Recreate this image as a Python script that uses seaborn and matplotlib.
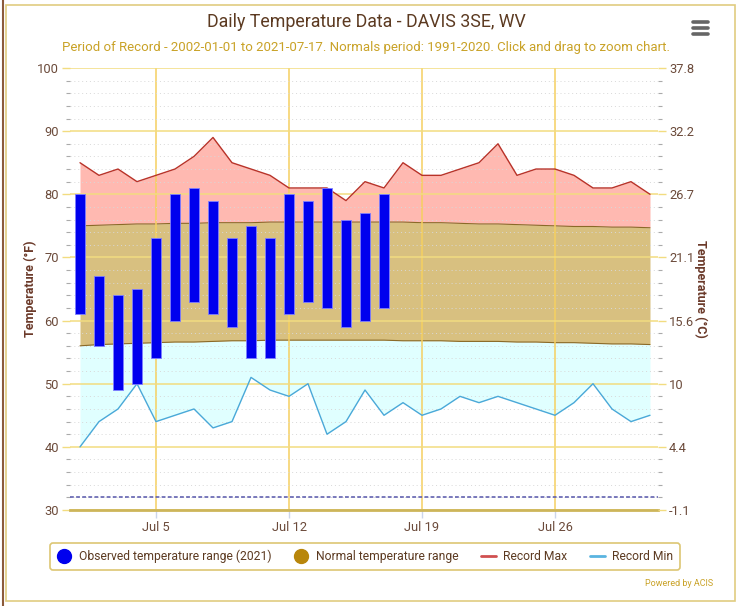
import matplotlib
matplotlib.use("Agg")
import matplotlib.pyplot as plt
import seaborn as sns
import numpy as np
import pandas as pd
from matplotlib.lines import Line2D
from matplotlib.patches import Rectangle

# ---------------- data ----------------
days = list(range(1, 32))                      # July 1..31
obs_days = list(range(1, 18))                  # July 1..17 (2021)
obs_high = [80, 67, 64, 65, 73, 80, 81, 79, 73, 75, 73, 80, 79, 81, 76, 77, 80]
obs_low = [61, 56, 49, 50, 54, 60, 63, 61, 59, 54, 54, 61, 63, 62, 59, 60, 62]
rec_max = [85, 83, 84, 82, 83, 84, 86, 89, 85, 84, 83, 81, 81, 81, 79, 82, 81, 85, 83, 83,
           84, 85, 88, 83, 84, 84, 83, 81, 81, 82, 80]
rec_min = [40, 44, 46, 50, 44, 45, 46, 43, 44, 51, 49, 48, 50, 42, 44, 49, 45, 47, 45, 46,
           48, 47, 48, 47, 46, 45, 47, 50, 46, 44, 45]
norm_high = [75.0, 75.1, 75.2, 75.3, 75.3, 75.4, 75.4, 75.5, 75.5, 75.5, 75.6, 75.6, 75.6,
             75.6, 75.6, 75.6, 75.6, 75.6, 75.5, 75.5, 75.4, 75.3, 75.3, 75.2, 75.1, 75.0,
             74.9, 74.9, 74.8, 74.8, 74.7]
norm_low = [56.0, 56.2, 56.3, 56.4, 56.5, 56.6, 56.6, 56.7, 56.8, 56.8, 56.9, 56.9, 56.9,
            56.9, 56.9, 56.9, 56.9, 56.8, 56.8, 56.8, 56.7, 56.7, 56.7, 56.6, 56.6, 56.5,
            56.5, 56.4, 56.3, 56.3, 56.2]
freezing = 32
x_ticks = [5, 12, 19, 26]
x_tick_labels = ["Jul 5", "Jul 12", "Jul 19", "Jul 26"]
yf_ticks = [30, 40, 50, 60, 70, 80, 90, 100]
yc_labels = ["-1.1", "4.4", "10", "15.6", "21.1", "26.7", "32.2", "37.8"]

df = pd.DataFrame({"day": days, "rec_max": rec_max, "rec_min": rec_min,
                   "norm_high": norm_high, "norm_low": norm_low})

# ---------------- style ----------------
sns.set_theme(style="white")
plt.rcParams["font.family"] = ["Roboto", "DejaVu Sans"]

BROWN = "#5c3a21"
TICKC = "#6b4a3a"
GOLD = "#c9a227"
GRID = "#f2dc80"

fig = plt.figure(figsize=(7.38, 6.06), dpi=100)
ax = fig.add_axes([70 / 738, 1 - 510 / 606, 588 / 738, 442 / 606])

# fills
ax.fill_between(df["day"], df["norm_high"], df["rec_max"], color="#ffb9b1", lw=0, zorder=1)
ax.fill_between(df["day"], df["norm_low"], df["norm_high"], color="#d8c080", lw=0, zorder=1)
ax.fill_between(df["day"], df["rec_min"], df["norm_low"], color="#e0ffff", lw=0, zorder=1)
sns.lineplot(data=df, x="day", y="norm_high", ax=ax, color="#8a6a28", lw=0.8, zorder=2)
sns.lineplot(data=df, x="day", y="norm_low", ax=ax, color="#8a6a28", lw=0.8, zorder=2)

# record lines
sns.lineplot(data=df, x="day", y="rec_max", ax=ax, color="#b83228", lw=1.0, zorder=2.6)
sns.lineplot(data=df, x="day", y="rec_min", ax=ax, color="#4aa8d8", lw=1.0, zorder=2.6)

# freezing line
ax.axhline(freezing, color="#5555aa", lw=1.1, ls=(0, (2.5, 1.5)), zorder=2.6)

# observed bars
ax.bar(obs_days, np.array(obs_high) - np.array(obs_low), bottom=obs_low, width=0.5,
       color="#0000ee", edgecolor="#7f7fff", linewidth=0.6, zorder=3)

# axes
ax.set_xlim(1 - 10 / 19, 1 + 578 / 19)
ax.set_ylim(30, 100)
ax.set_xlabel("")
ax.set_ylabel("")
ax.set_xticks(x_ticks)
ax.set_xticklabels(x_tick_labels)
ax.set_yticks(yf_ticks)
ax.set_yticks(np.arange(30, 101, 2), minor=True)
ax.set_axisbelow(False)
ax.grid(True, axis="y", which="major", color=GRID, lw=1.1, zorder=2.5)
ax.grid(True, axis="y", which="minor", color="#d8d8d8", lw=0.7, ls=(0, (1, 3)), zorder=2.5)
ax.grid(True, axis="x", which="major", color="#f5d060", lw=1.1, zorder=2.5)
for s in ["top", "left", "right"]:
    ax.spines[s].set_visible(False)
ax.spines["bottom"].set_color("#cdb55a")
ax.spines["bottom"].set_linewidth(2.0)
ax.spines["bottom"].set_zorder(4)
ax.tick_params(axis="y", which="major", left=True, length=6, width=1, color=GRID,
               labelsize=9.3, labelcolor=TICKC, pad=2)
ax.tick_params(axis="y", which="minor", left=True, length=3, width=0.8, color="#aaaaaa")
ax.tick_params(axis="x", which="major", bottom=True, length=6, width=1, color="#ccd6eb",
               labelsize=9.3, labelcolor=TICKC, pad=2)

ax2 = ax.twinx()
ax2.set_ylim(30, 100)
ax2.set_yticks(yf_ticks)
ax2.set_yticklabels(yc_labels)
ax2.set_yticks(np.arange(30, 101, 2), minor=True)
for s in ["top", "left", "right", "bottom"]:
    ax2.spines[s].set_visible(False)
ax2.tick_params(axis="y", which="major", right=True, length=6, width=1, color=GRID,
                labelsize=9.3, labelcolor=TICKC, pad=2)
ax2.tick_params(axis="y", which="minor", right=True, length=3, width=0.8, color="#aaaaaa")
ax2.grid(False)

# axis titles
fig.text(30 / 738, 1 - 289 / 606, "Temperature (°F)", rotation=90, ha="center", va="center",
         fontsize=9, fontweight="bold", color="#6b3a2a")
fig.text(701 / 738, 1 - 289 / 606, "Temperature (°C)", rotation=270, ha="center", va="center",
         fontsize=9, fontweight="bold", color="#6b3a2a")

# titles
fig.text(366 / 738, 1 - 22 / 606, "Daily Temperature Data - DAVIS 3SE, WV", ha="center",
         va="center", fontsize=12.8, color=BROWN)
fig.text(366 / 738, 1 - 47 / 606,
         "Period of Record - 2002-01-01 to 2021-07-17. Normals period: 1991-2020. Click and drag to zoom chart.",
         ha="center", va="center", fontsize=9.5, color=GOLD)

# legend
handles = [
    Line2D([], [], ls="none", marker="o", markersize=10, color="#0000ee"),
    Line2D([], [], ls="none", marker="o", markersize=10, color="#b8860b"),
    Line2D([], [], color="#d05050", lw=2),
    Line2D([], [], color="#5ab4e0", lw=2),
]
labels = ["Observed temperature range (2021)", "Normal temperature range", "Record Max", "Record Min"]
leg = fig.legend(handles, labels, loc="center", bbox_to_anchor=(365 / 738, 1 - 556.5 / 606),
                 ncol=4, frameon=True, fancybox=True, fontsize=8.7, handlelength=1.2,
                 handletextpad=0.6, columnspacing=1.9, borderpad=0.55, labelcolor=BROWN)
leg.get_frame().set_edgecolor("#d4b850")
leg.get_frame().set_linewidth(1.2)
leg.get_frame().set_facecolor("white")

# credits
fig.text(713 / 738, 1 - 583 / 606, "Powered by ACIS", ha="right", va="center", fontsize=6.5, color=GOLD)

# outer border
fig.add_artist(Rectangle((6 / 738, 5 / 606), 729 / 738, 596 / 606, transform=fig.transFigure,
                         fill=False, edgecolor="#e0cc80", lw=1.2))
fig.add_artist(Line2D([2.5 / 738, 2.5 / 738], [0, 1], transform=fig.transFigure,
                      color="#8b5a3a", lw=1.5))

# menu icon
for yy in (22, 28, 34):
    fig.add_artist(Line2D([693 / 738, 708 / 738], [1 - yy / 606, 1 - yy / 606],
                          transform=fig.transFigure, color="#666666", lw=2.6,
                          solid_capstyle="round"))

fig.savefig("out.png", dpi=100)
